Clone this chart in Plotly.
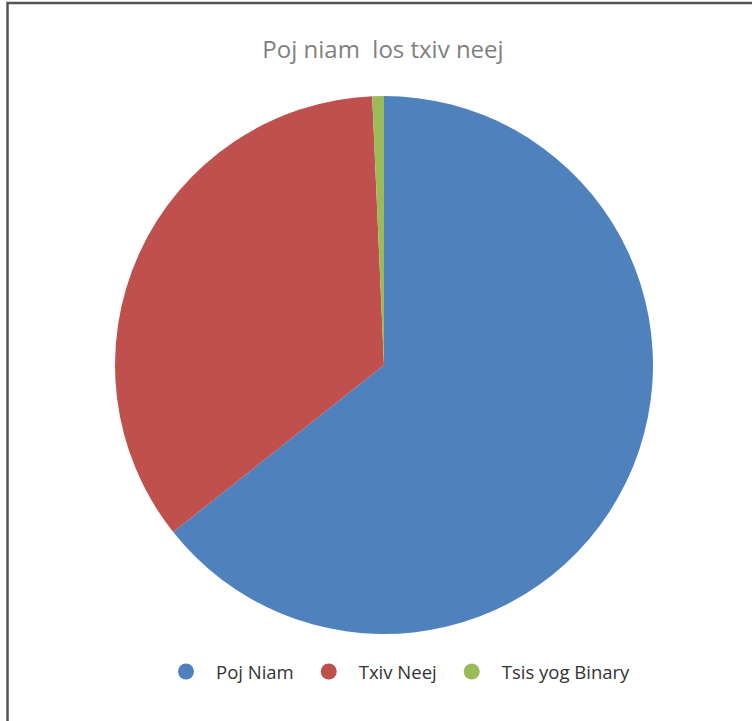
import plotly.graph_objects as go

labels = ["Poj Niam", "Txiv Neej", "Tsis yog Binary"]
values = [92, 50, 1]
colors = ["#4F81BD", "#C0504D", "#9BBB59"]
title_text = "Poj niam  los txiv neej"

W, H = 752, 721
fig = go.Figure()
fig.add_trace(go.Pie(
    labels=labels, values=values, sort=False, direction="clockwise", rotation=0,
    marker=dict(colors=colors, line=dict(width=0)),
    textinfo="none", hoverinfo="label+value+percent", showlegend=False,
    domain=dict(x=[115 / W, 653 / W], y=[1 - 634 / H, 1 - 96 / H]),
))
for lab, col in zip(labels, colors):
    fig.add_trace(go.Scatter(x=[None], y=[None], mode="markers", name=lab,
                             marker=dict(symbol="circle", size=16, color=col)))

fig.update_layout(
    width=W, height=H, margin=dict(l=0, r=0, t=0, b=0),
    paper_bgcolor="white", plot_bgcolor="white",
    font=dict(family="Open Sans, Lato, sans-serif"),
    title=dict(text=title_text, x=383 / W, xanchor="center", y=1 - 50 / H, yanchor="middle",
               yref="container", font=dict(size=24, color="#808080", family="Open Sans, sans-serif")),
    xaxis=dict(visible=False), yaxis=dict(visible=False),
    legend=dict(orientation="h", x=396 / W, xanchor="center", y=1 - 672 / H, yanchor="middle",
                font=dict(size=18.5, color="#333333"), itemsizing="trace", itemwidth=50,
                tracegroupgap=0),
    shapes=[dict(type="rect", xref="paper", yref="paper", x0=7.5 / W, x1=1.05, y0=-0.05, y1=1 - 3 / H,
                 line=dict(color="#555555", width=2.5), layer="above")],
)
fig.write_html("out.html", config={"displayModeBar": False},
               post_script="document.body.style.margin='0';document.body.style.overflow='hidden';")
